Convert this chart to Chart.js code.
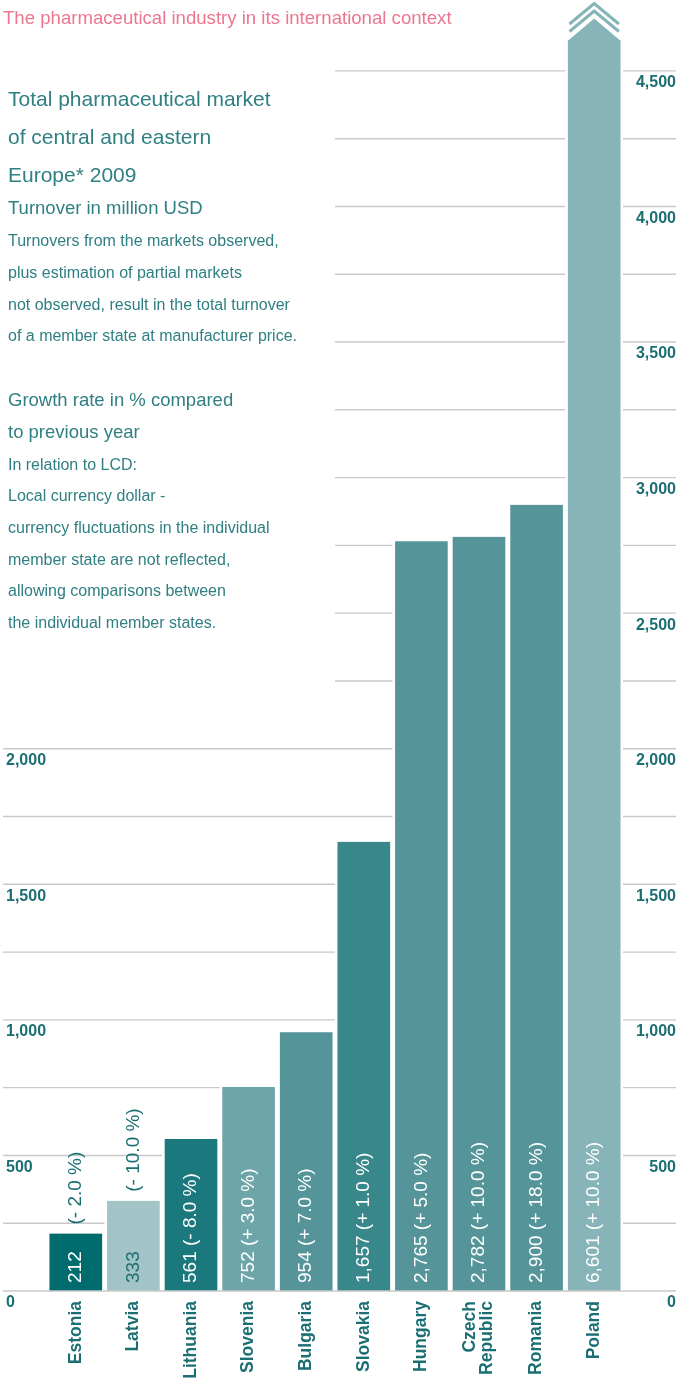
<!DOCTYPE html>
<html>
<head>
<meta charset="utf-8">
<script src="https://cdn.jsdelivr.net/npm/chart.js@4.4.0/dist/chart.umd.min.js"></script>
<style>
  html, body { margin: 0; padding: 0; background: #fff; }
  #wrap { position: relative; width: 685px; height: 1379px; overflow: hidden; }
  #chart-box { position: absolute; left: 0; top: 0; width: 685px; height: 1379px; }
  .txt { position: absolute; left: 8px; color: #2f7f83; font-family: 'Liberation Sans', Arial, sans-serif; white-space: nowrap; }
  #header { left: 3px; top: 7.6px; font-size: 18.6px; line-height: 20px; color: #ec7690; }
  #title { top: 80.4px; font-size: 21px; line-height: 37.7px; }
  #unit { top: 198.3px; font-size: 18.5px; line-height: 20px; }
  #note1 { top: 225.3px; font-size: 16px; line-height: 31.7px; }
  #growth { top: 384.4px; font-size: 18.5px; line-height: 31.7px; }
  #note2 { top: 448.6px; font-size: 16px; line-height: 31.7px; }
</style>
</head>
<body>
<div id="wrap">
  <div id="chart-box"><canvas id="grafico"></canvas></div>
  <div class="txt" id="header">The pharmaceutical industry in its international context</div>
  <div class="txt" id="title">Total pharmaceutical market<br>of central and eastern<br>Europe* 2009</div>
  <div class="txt" id="unit">Turnover in million USD</div>
  <div class="txt" id="note1">Turnovers from the markets observed,<br>plus estimation of partial markets<br>not observed, result in the total turnover<br>of a member state at manufacturer price.</div>
  <div class="txt" id="growth">Growth rate in % compared<br>to previous year</div>
  <div class="txt" id="note2">In relation to LCD:<br>Local currency dollar -<br>currency fluctuations in the individual<br>member state are not reflected,<br>allowing comparisons between<br>the individual member states.</div>
</div>
<script>
// datos
const countries = ['Estonia', 'Latvia', 'Lithuania', 'Slovenia', 'Bulgaria', 'Slovakia', 'Hungary', ['Czech', 'Republic'], 'Romania', 'Poland'];
const turnover = [212, 333, 561, 752, 954, 1657, 2765, 2782, 2900, 6601];
const growth = [-2.0, -10.0, -8.0, 3.0, 7.0, 1.0, 5.0, 10.0, 18.0, 10.0];
const leftTicks = [0, 500, 1000, 1500, 2000];
const rightTicks = [0, 500, 1000, 1500, 2000, 2500, 3000, 3500, 4000, 4500];
const gridValues = [250, 500, 750, 1000, 1250, 1500, 1750, 2000, 2250, 2500, 2750, 3000, 3250, 3500, 3750, 4000, 4250, 4500];
const axisMax = 4614;

// estilos
const barColors = ['#006b6c', '#a3c4c7', '#1b787c', '#6da5a9', '#55959a', '#38878b', '#55959a', '#55959a', '#55959a', '#86b4b8'];
const labelColors = ['#ffffff', '#1b6f73', '#ffffff', '#ffffff', '#ffffff', '#ffffff', '#ffffff', '#ffffff', '#ffffff', '#ffffff'];
const teal = '#1b6f73';
const gridColor = '#c9c9c9';
const FONT = "'Liberation Sans', Arial, sans-serif";
const GAP = 2.8;

function fmtGrowth(g) {
  return '(' + (g < 0 ? '-' : '+') + ' ' + Math.abs(g).toFixed(1) + ' %)';
}

const deco = {
  id: 'deco',
  beforeDatasetsDraw(chart) {
    const ctx = chart.ctx;
    const y = chart.scales.y;
    ctx.save();
    ctx.strokeStyle = gridColor;
    ctx.lineWidth = 1.4;
    gridValues.forEach(v => {
      const py = y.getPixelForValue(v);
      const x0 = v <= leftTicks[leftTicks.length - 1] ? 3 : 335;
      ctx.beginPath(); ctx.moveTo(x0, py); ctx.lineTo(676, py); ctx.stroke();
    });
    ctx.restore();
  },
  afterDatasetsDraw(chart) {
    const ctx = chart.ctx;
    const ca = chart.chartArea;
    const y = chart.scales.y;
    const xs = chart.scales.x;
    const meta = chart.getDatasetMeta(0);

    // linea cero
    ctx.save();
    ctx.strokeStyle = gridColor;
    ctx.lineWidth = 1.6;
    const p0 = y.getPixelForValue(0);
    ctx.beginPath(); ctx.moveTo(3, p0); ctx.lineTo(676, p0); ctx.stroke();
    ctx.restore();

    // etiquetas de barras
    ctx.font = '19px ' + FONT;
    meta.data.forEach((bar, i) => {
      const num = turnover[i].toLocaleString('en-US');
      const pct = fmtGrowth(growth[i]);
      const full = num + ' ' + pct;
      const top = Math.max(bar.y, ca.top);
      const h = bar.base - top;
      ctx.save();
      ctx.translate(bar.x, bar.base - 8);
      ctx.rotate(-Math.PI / 2);
      ctx.textAlign = 'left';
      ctx.textBaseline = 'middle';
      ctx.fillStyle = labelColors[i];
      if (ctx.measureText(full).width + 16 <= h) {
        ctx.fillText(full, 0, 0);
      } else {
        ctx.fillText(num, 0, 0);
        ctx.fillStyle = teal;
        ctx.fillText(pct, h - 8 + 9, 0);
      }
      ctx.restore();
    });

    // flecha de Polonia (eje cortado)
    const pb = meta.data[meta.data.length - 1];
    const half = pb.width / 2 - GAP;
    const s = 0.83;
    ctx.save();
    ctx.fillStyle = barColors[barColors.length - 1];
    ctx.strokeStyle = barColors[barColors.length - 1];
    ctx.beginPath();
    ctx.moveTo(pb.x - half, ca.top + 0.5);
    ctx.lineTo(pb.x, ca.top - s * half);
    ctx.lineTo(pb.x + half, ca.top + 0.5);
    ctx.closePath();
    ctx.fill();
    ctx.lineWidth = 3;
    [29, 36.5].forEach(d => {
      const ay = ca.top - d;
      const hw = half - 1.3;
      ctx.beginPath();
      ctx.moveTo(pb.x - hw, ay + s * hw);
      ctx.lineTo(pb.x, ay);
      ctx.lineTo(pb.x + hw, ay + s * hw);
      ctx.stroke();
    });
    ctx.restore();

    // etiquetas del eje x
    ctx.save();
    ctx.font = 'bold 17.5px ' + FONT;
    ctx.fillStyle = teal;
    countries.forEach((c, i) => {
      const lines = Array.isArray(c) ? c : [c];
      const cx = xs.getPixelForValue(i);
      lines.forEach((ln, j) => {
        const off = (j - (lines.length - 1) / 2) * 17;
        ctx.save();
        ctx.translate(cx + off, xs.top + 10);
        ctx.rotate(-Math.PI / 2);
        ctx.textAlign = 'right';
        ctx.textBaseline = 'middle';
        ctx.fillText(ln, 0, 0);
        ctx.restore();
      });
    });
    ctx.restore();
  }
};

const tickFont = { family: FONT, size: 16, weight: 'bold' };

new Chart(document.getElementById('grafico').getContext('2d'), {
  type: 'bar',
  data: {
    labels: countries,
    datasets: [{
      data: turnover,
      backgroundColor: barColors,
      borderColor: '#ffffff',
      borderWidth: { left: GAP, right: GAP, top: 0, bottom: 0 },
      borderSkipped: false,
      barPercentage: 1,
      categoryPercentage: 1,
      clip: 0,
      yAxisID: 'y'
    }]
  },
  options: {
    responsive: true,
    maintainAspectRatio: false,
    animation: false,
    layout: { padding: { left: 6, right: 9, top: 40, bottom: 0 } },
    plugins: { legend: { display: false }, tooltip: { enabled: false } },
    scales: {
      x: {
        grid: { display: false },
        border: { display: false },
        ticks: { display: false },
        afterFit: s => { s.height = 88; }
      },
      yL: {
        position: 'left',
        min: 0, max: axisMax,
        grid: { display: false },
        border: { display: false },
        afterBuildTicks: a => { a.ticks = leftTicks.map(v => ({ value: v })); },
        afterFit: s => { s.width = 41; },
        ticks: { color: teal, font: tickFont, crossAlign: 'far', labelOffset: 12, padding: 0 }
      },
      y: {
        position: 'right',
        min: 0, max: axisMax,
        grid: { display: false },
        border: { display: false },
        afterBuildTicks: a => { a.ticks = rightTicks.map(v => ({ value: v })); },
        afterFit: s => { s.width = 53; },
        ticks: { color: teal, font: tickFont, crossAlign: 'far', labelOffset: 12, padding: 0 }
      }
    }
  },
  plugins: [deco]
});
</script>
</body>
</html>
